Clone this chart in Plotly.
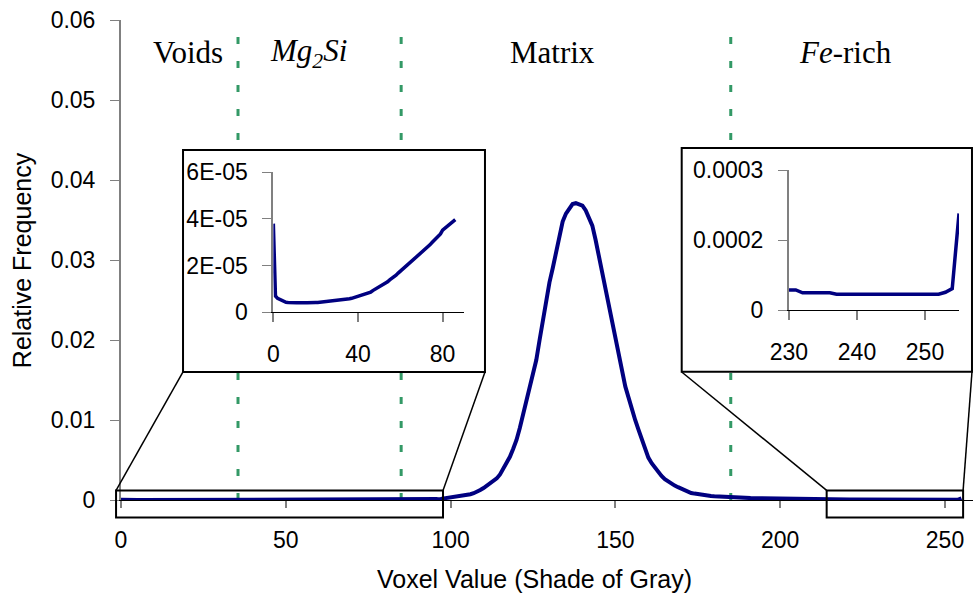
import plotly.graph_objects as go

# ---------------- data ----------------
voxel = list(range(256))

freq_voids_mg2si = [  # voxel 0..86
    3.8e-5, 7.0e-6, 6.0e-6, 5.5e-6, 5.0e-6, 4.6e-6, 4.3e-6, 4.2e-6, 4.1e-6, 4.1e-6,
    4.2e-6, 4.1e-6, 4.1e-6, 4.2e-6, 4.1e-6, 4.1e-6, 4.1e-6, 4.2e-6, 4.1e-6, 4.1e-6,
    4.2e-6, 4.2e-6, 4.3e-6, 4.4e-6, 4.6e-6, 4.6e-6, 4.5e-6, 4.9e-6, 4.8e-6, 4.9e-6,
    5.0e-6, 5.0e-6, 5.1e-6, 5.3e-6, 5.6e-6, 5.7e-6, 5.8e-6, 6.0e-6, 6.3e-6, 6.4e-6,
    6.6e-6, 7.0e-6, 7.2e-6, 7.5e-6, 7.8e-6, 8.2e-6, 8.6e-6, 9.3e-6, 9.8e-6, 1.04e-5,
    1.11e-5, 1.15e-5, 1.20e-5, 1.26e-5, 1.31e-5, 1.39e-5, 1.45e-5, 1.52e-5, 1.59e-5, 1.68e-5,
    1.76e-5, 1.83e-5, 1.91e-5, 1.98e-5, 2.07e-5, 2.15e-5, 2.22e-5, 2.30e-5, 2.38e-5, 2.45e-5,
    2.54e-5, 2.63e-5, 2.71e-5, 2.80e-5, 2.89e-5, 2.99e-5, 3.07e-5, 3.17e-5, 3.28e-5, 3.36e-5,
    3.52e-5, 3.59e-5, 3.66e-5, 3.73e-5, 3.82e-5, 3.90e-5, 3.97e-5,
]
freq_rise = [  # voxel 87..97
    4.1e-5, 4.3e-5, 4.6e-5, 4.9e-5, 5.3e-5, 5.8e-5, 6.5e-5, 7.5e-5, 9.0e-5, 1.1e-4, 1.4e-4,
]
freq_matrix = [  # voxel 98..200
    0.00020, 0.00025, 0.00030, 0.00035, 0.00040, 0.00045, 0.00052, 0.00060, 0.00072, 0.00085,
    0.0010, 0.00125, 0.0015, 0.0018, 0.0021, 0.0024, 0.0027, 0.0032, 0.0039, 0.0046,
    0.0054, 0.0064, 0.0075, 0.0090, 0.0108, 0.0125, 0.0142, 0.0158, 0.0175, 0.0200,
    0.0225, 0.0248, 0.0272, 0.0290, 0.0310, 0.0332, 0.0348, 0.0358, 0.0365, 0.0370,
    0.0371, 0.0370, 0.0368, 0.0362, 0.0352, 0.0343, 0.0325, 0.0305, 0.0280, 0.0262,
    0.0246, 0.0225, 0.0200, 0.0180, 0.0160, 0.0142, 0.0128, 0.0113, 0.0100, 0.0088,
    0.0076, 0.0064, 0.0053, 0.0046, 0.0040, 0.0034, 0.0030, 0.0026, 0.0023, 0.0020,
    0.0018, 0.0016, 0.0014, 0.0012, 0.0010, 0.00088, 0.00080, 0.00072, 0.00066, 0.00060,
    0.00055, 0.00050, 0.00046, 0.00043, 0.00040, 0.00037, 0.00035, 0.00033, 0.00031, 0.00029,
    0.00028, 0.00026, 0.00025, 0.00024, 0.00023, 0.00022, 0.00021, 0.00020, 0.00019, 0.00018,
    0.00017, 0.00016, 0.00015,
]
freq_tail = [  # voxel 201..229
    1.40e-4, 1.35e-4, 1.30e-4, 1.25e-4, 1.20e-4, 1.15e-4, 1.10e-4, 1.05e-4, 1.00e-4, 9.6e-5,
    9.2e-5, 8.8e-5, 8.4e-5, 8.0e-5, 7.6e-5, 7.3e-5, 7.0e-5, 6.7e-5, 6.4e-5, 6.1e-5,
    5.8e-5, 5.6e-5, 5.4e-5, 5.2e-5, 5.0e-5, 4.8e-5, 4.6e-5, 4.5e-5, 4.4e-5,
]
freq_fe_rich = [  # voxel 230..255
    4.3e-5, 4.3e-5, 3.7e-5, 3.7e-5, 3.7e-5, 3.7e-5, 3.7e-5, 3.4e-5, 3.4e-5, 3.4e-5,
    3.4e-5, 3.4e-5, 3.4e-5, 3.4e-5, 3.4e-5, 3.4e-5, 3.4e-5, 3.4e-5, 3.4e-5, 3.4e-5,
    3.4e-5, 3.4e-5, 3.4e-5, 3.8e-5, 4.6e-5, 2.07e-4,
]
freq = freq_voids_mg2si + freq_rise + freq_matrix + freq_tail + freq_fe_rich
assert len(freq) == len(voxel)

boundaries = [35.5, 85, 185]
region_labels = ["Voids", "<i>Mg<sub>2</sub>Si</i>", "Matrix", "<i>Fe</i>-rich"]
region_label_x = [20.3, 57, 131, 219.7]
main_yticks = [0, 0.01, 0.02, 0.03, 0.04, 0.05, 0.06]
left_inset_yticks = [0, 2e-5, 4e-5, 6e-5]
left_inset_yticktext = ["0", "2E-05", "4E-05", "6E-05"]
right_inset_yticks = [0, 1.5e-4, 3e-4]
right_inset_yticktext = ["0", "0.0002", "0.0003"]
left_zoom_x = [-1.5, 97.7]
right_zoom_x = [214.1, 255.5]
zoom_y = [-0.0022, 0.0012]

# ---------------- styling ----------------
NAVY = "#000080"
GREEN = "#339966"
SANS = "Liberation Sans, Arial, sans-serif"
SERIF = "Liberation Serif, Times New Roman, serif"
XMAX = 258.5
YMAX = 0.06


def xp(v):
    return v / XMAX


def yp(v):
    return v / YMAX


fig = go.Figure()

fig.add_trace(go.Scatter(x=voxel, y=freq, mode="lines",
                         line=dict(color=NAVY, width=4), xaxis="x", yaxis="y",
                         showlegend=False, hoverinfo="skip"))
fig.add_trace(go.Scatter(x=voxel[:87], y=freq[:87], mode="lines",
                         line=dict(color=NAVY, width=3.5), xaxis="x2", yaxis="y2",
                         showlegend=False, hoverinfo="skip"))
fig.add_trace(go.Scatter(x=voxel[230:], y=freq[230:], mode="lines",
                         line=dict(color=NAVY, width=3.5), xaxis="x3", yaxis="y3",
                         showlegend=False, hoverinfo="skip"))

shapes = []
for b in boundaries:
    shapes.append(dict(type="line", xref="x", yref="paper", x0=b, x1=b, y0=0, y1=1,
                       line=dict(color=GREEN, width=3, dash="7px,17px"), layer="below"))

# inset frames (white, hide the dotted lines behind)
left_frame = [0.0728, 0.2667, 0.4272, 0.7292]
right_frame = [0.6581, 0.2673, 0.9988, 0.7333]
for fr in (left_frame, right_frame):
    shapes.append(dict(type="rect", xref="paper", yref="paper", x0=fr[0], y0=fr[1], x1=fr[2], y1=fr[3],
                       fillcolor="white", line=dict(color="black", width=2), layer="below"))

# zoom boxes on main axis
for zx in (left_zoom_x, right_zoom_x):
    shapes.append(dict(type="rect", xref="paper", yref="paper", x0=xp(zx[0]), x1=xp(zx[1]),
                       y0=yp(zoom_y[0]), y1=yp(zoom_y[1]), line=dict(color="black", width=2),
                       fillcolor="rgba(0,0,0,0)", layer="above"))
# connectors
conn = [
    (xp(left_zoom_x[0]), left_frame[0]), (xp(left_zoom_x[1]), left_frame[2]),
    (xp(right_zoom_x[0]), right_frame[0]), (xp(right_zoom_x[1]), right_frame[2]),
]
for a, b in conn:
    shapes.append(dict(type="line", xref="paper", yref="paper", x0=a, y0=yp(zoom_y[1]),
                       x1=b, y1=left_frame[1], line=dict(color="black", width=1.5), layer="above"))

annotations = []
for lab, lx in zip(region_labels, region_label_x):
    annotations.append(dict(text=lab, x=lx, y=0.0559, xref="x", yref="y", showarrow=False,
                            font=dict(family=SERIF, size=31, color="black"),
                            xanchor="center", yanchor="middle"))
annotations.append(dict(text="Voxel Value (Shade of Gray)", x=0.485, y=-0.165, xref="paper", yref="paper",
                        showarrow=False, font=dict(family=SANS, size=25, color="black"),
                        xanchor="center", yanchor="middle"))
annotations.append(dict(text="Relative Frequency", x=-0.116, y=0.5, xref="paper", yref="paper",
                        showarrow=False, textangle=-90, font=dict(family=SANS, size=25, color="black"),
                        xanchor="center", yanchor="middle"))

tickfont = dict(family=SANS, size=23, color="black")

fig.update_layout(
    width=973, height=600,
    margin=dict(l=121, r=0, t=20, b=100),
    paper_bgcolor="white", plot_bgcolor="white",
    shapes=shapes, annotations=annotations,
    xaxis=dict(domain=[0, 1], range=[0, XMAX], tickvals=[0, 50, 100, 150, 200, 250],
               showline=True, linecolor="black", linewidth=1, ticks="outside", ticklen=7,
               tickcolor="#808080", tickwidth=2, showgrid=False, zeroline=False,
               tickfont=tickfont, ticklabelstandoff=12),
    yaxis=dict(domain=[0, 1], range=[0, YMAX], tickvals=main_yticks,
               showline=True, linecolor="#808080", linewidth=2, ticks="outside", ticklen=9,
               tickcolor="#808080", tickwidth=1, showgrid=False, zeroline=False,
               tickfont=tickfont, ticklabelstandoff=10),
    xaxis2=dict(domain=[0.1788, 0.4023], range=[0, 90], anchor="y2", tickvals=[0, 40, 80],
                showline=True, linecolor="black", linewidth=1, ticks="outside", ticklen=9,
                tickcolor="#808080", tickwidth=2, showgrid=False, zeroline=False,
                tickfont=tickfont, ticklabelstandoff=12),
    yaxis2=dict(domain=[0.391, 0.6827], range=[0, 6e-5], anchor="x2", tickvals=left_inset_yticks,
                ticktext=left_inset_yticktext, showline=True, linecolor="#808080", linewidth=2,
                ticks="outside", ticklen=9, tickcolor="#808080", tickwidth=1, showgrid=False,
                zeroline=False, tickfont=tickfont, ticklabelstandoff=10),
    xaxis3=dict(domain=[0.784, 0.9836], range=[230, 255], anchor="y3", tickvals=[230, 240, 250],
                showline=True, linecolor="black", linewidth=1, ticks="outside", ticklen=9,
                tickcolor="#808080", tickwidth=2, showgrid=False, zeroline=False,
                tickfont=tickfont, ticklabelstandoff=12),
    yaxis3=dict(domain=[0.3958, 0.6875], range=[0, 3e-4], anchor="x3", tickvals=right_inset_yticks,
                ticktext=right_inset_yticktext, showline=True, linecolor="#808080", linewidth=2,
                ticks="outside", ticklen=9, tickcolor="#808080", tickwidth=1, showgrid=False,
                zeroline=False, tickfont=tickfont, ticklabelstandoff=10),
)

fig.write_html("out.html")
